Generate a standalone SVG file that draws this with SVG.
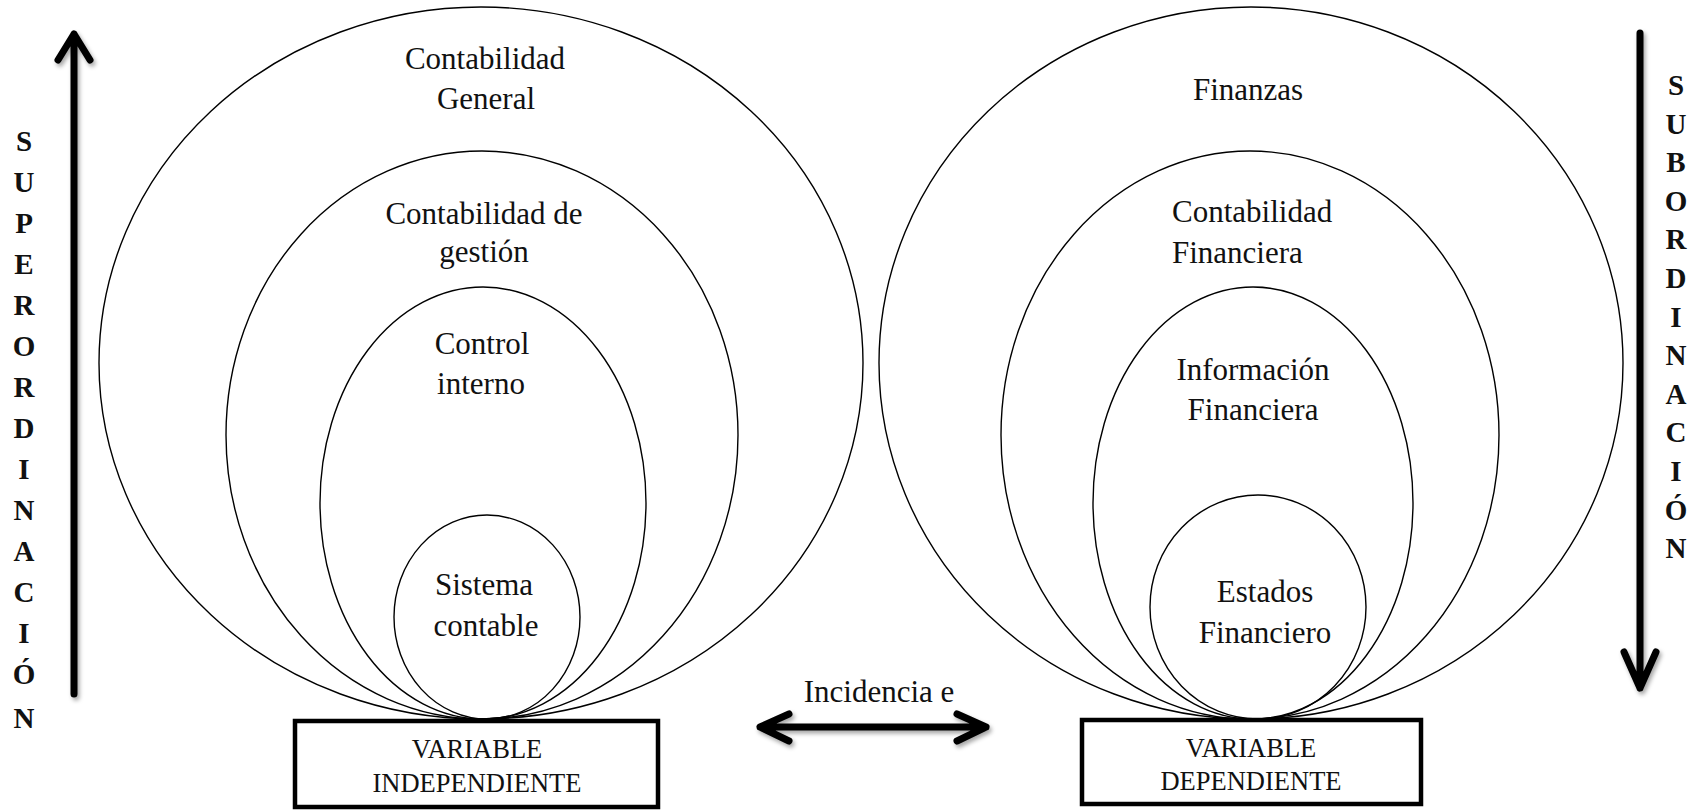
<svg xmlns="http://www.w3.org/2000/svg" width="1701" height="810" viewBox="0 0 1701 810">
  <style>
    .ring { fill: none; stroke: #000; stroke-width: 1.4; }
    .lbl { font-family: "Liberation Serif", "Times New Roman", serif; font-size: 31px; fill: #111; text-anchor: middle; }
    .lbl.start { text-anchor: start; }
    .box { fill: #fff; stroke: #000; stroke-width: 4.5; }
    .boxtxt { font-family: "Liberation Serif", "Times New Roman", serif; font-size: 26.5px; fill: #111; text-anchor: middle; }
    .vert { font-family: "Liberation Serif", "Times New Roman", serif; font-size: 29px; font-weight: bold; fill: #111; text-anchor: middle; }
    .arrow { fill: none; stroke: #000; stroke-width: 7; stroke-linecap: round; stroke-linejoin: round; }
  </style>
  <defs>
    <filter id="shadow" x="-20%" y="-20%" width="140%" height="140%">
      <feDropShadow dx="2" dy="3" stdDeviation="2" flood-color="#000" flood-opacity="0.35"/>
    </filter>
  </defs>

  <rect width="1701" height="810" fill="#fff"/>

  <!-- left family: general accounting down to the accounting system -->
  <g id="contabilidad-general">
    <ellipse class="ring" cx="481" cy="363" rx="382" ry="356"/>
    <text class="lbl" x="485" y="69">Contabilidad</text>
    <text class="lbl" x="486" y="109">General</text>
  </g>
  <g id="contabilidad-gestion">
    <ellipse class="ring" cx="482" cy="435" rx="256" ry="284"/>
    <text class="lbl" x="484" y="224">Contabilidad de</text>
    <text class="lbl" x="484" y="262">gestión</text>
  </g>
  <g id="control-interno">
    <ellipse class="ring" cx="483" cy="503" rx="163" ry="216"/>
    <text class="lbl" x="482" y="354">Control</text>
    <text class="lbl" x="481" y="394">interno</text>
  </g>
  <g id="sistema-contable">
    <ellipse class="ring" cx="487" cy="617" rx="93" ry="102"/>
    <text class="lbl" x="484" y="595">Sistema</text>
    <text class="lbl" x="486" y="636">contable</text>
  </g>

  <!-- right family: finance down to the financial statements -->
  <g id="finanzas">
    <ellipse class="ring" cx="1251" cy="363" rx="372" ry="356"/>
    <text class="lbl" x="1248" y="100">Finanzas</text>
  </g>
  <g id="contabilidad-financiera">
    <ellipse class="ring" cx="1250" cy="435" rx="249" ry="284"/>
    <text class="lbl start" x="1172" y="222">Contabilidad</text>
    <text class="lbl start" x="1172" y="263">Financiera</text>
  </g>
  <g id="informacion-financiera">
    <ellipse class="ring" cx="1253" cy="503" rx="160" ry="216"/>
    <text class="lbl" x="1253" y="380">Información</text>
    <text class="lbl" x="1253" y="420">Financiera</text>
  </g>
  <g id="estados-financiero">
    <ellipse class="ring" cx="1258" cy="607" rx="108" ry="112"/>
    <text class="lbl" x="1265" y="602">Estados</text>
    <text class="lbl" x="1265" y="643">Financiero</text>
  </g>

  <!-- variable boxes -->
  <g id="variable-independiente">
    <rect class="box" x="295" y="721" width="363" height="86"/>
    <text class="boxtxt" x="477" y="758">VARIABLE</text>
    <text class="boxtxt" x="477" y="792">INDEPENDIENTE</text>
  </g>
  <g id="variable-dependiente">
    <rect class="box" x="1082" y="720" width="339" height="84"/>
    <text class="boxtxt" x="1251" y="757">VARIABLE</text>
    <text class="boxtxt" x="1251" y="790">DEPENDIENTE</text>
  </g>

  <!-- relation label -->
  <g id="incidencia">
    <text class="lbl" x="879" y="702">Incidencia e</text>
  </g>

  <!-- vertical axis captions -->
  <g id="superordinacion">
    <text class="vert" x="24" y="151">S</text>
    <text class="vert" x="24" y="192">U</text>
    <text class="vert" x="24" y="233">P</text>
    <text class="vert" x="24" y="274">E</text>
    <text class="vert" x="24" y="315">R</text>
    <text class="vert" x="24" y="356">O</text>
    <text class="vert" x="24" y="397">R</text>
    <text class="vert" x="24" y="438">D</text>
    <text class="vert" x="24" y="479">I</text>
    <text class="vert" x="24" y="520">N</text>
    <text class="vert" x="24" y="561">A</text>
    <text class="vert" x="24" y="602">C</text>
    <text class="vert" x="24" y="643">I</text>
    <text class="vert" x="24" y="684">Ó</text>
    <text class="vert" x="24" y="728">N</text>
  </g>
  <g id="subordinacion">
    <text class="vert" x="1676" y="95">S</text>
    <text class="vert" x="1676" y="134">U</text>
    <text class="vert" x="1676" y="172">B</text>
    <text class="vert" x="1676" y="211">O</text>
    <text class="vert" x="1676" y="249">R</text>
    <text class="vert" x="1676" y="288">D</text>
    <text class="vert" x="1676" y="327">I</text>
    <text class="vert" x="1676" y="365">N</text>
    <text class="vert" x="1676" y="404">A</text>
    <text class="vert" x="1676" y="442">C</text>
    <text class="vert" x="1676" y="481">I</text>
    <text class="vert" x="1676" y="520">Ó</text>
    <text class="vert" x="1676" y="558">N</text>
  </g>

  <!-- connectors -->
  <g id="connectors" filter="url(#shadow)">
    <!-- upward arrow: superordination -->
    <path class="arrow" d="M74 694 V34 M58 60 L74 34 L90 60"/>
    <!-- downward arrow: subordination -->
    <path class="arrow" d="M1640 33 V688 M1624 652 L1640 688 L1656 652"/>
    <!-- two-way arrow between the variables -->
    <path class="arrow" d="M760 727 H986 M789 714 L760 727 L789 741 M957 714 L986 727 L957 741"/>
  </g>
</svg>
